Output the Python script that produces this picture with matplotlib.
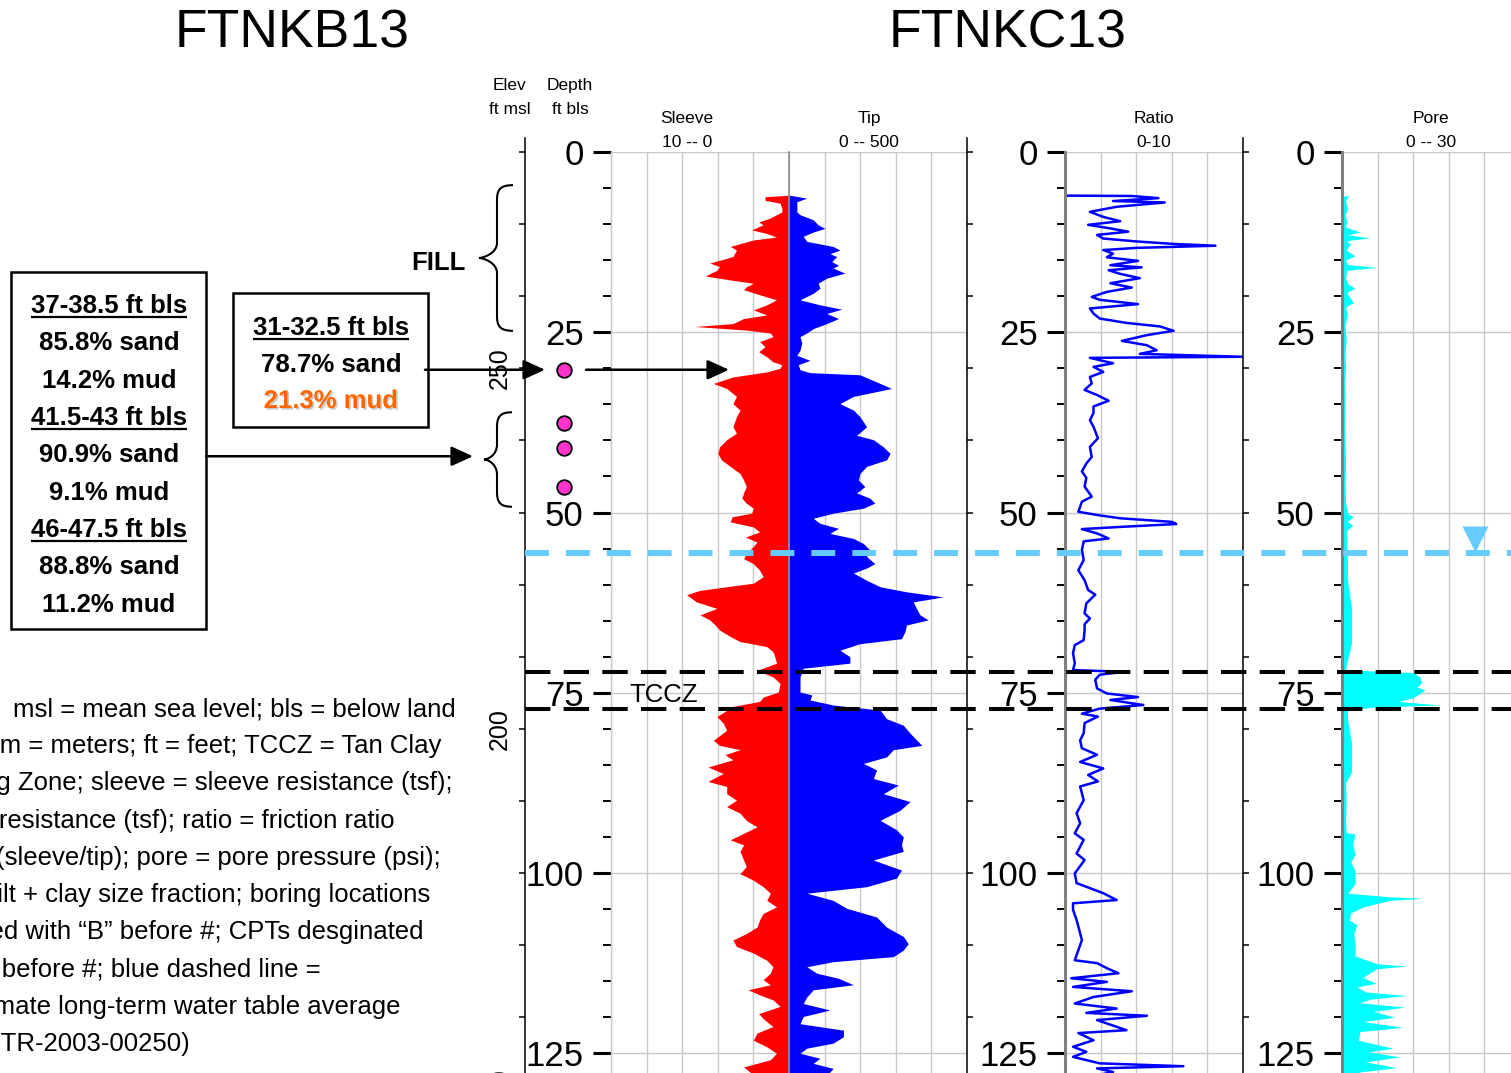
import matplotlib
matplotlib.use("Agg")
import matplotlib.pyplot as plt
from matplotlib.ticker import MultipleLocator
from matplotlib.patches import Rectangle, PathPatch
from matplotlib.path import Path
import matplotlib.transforms as mtransforms
import matplotlib.patheffects as pe

# ---------------------------------------------------------------- data
sleeve_depth = [6.0, 6.2, 6.7, 7.1, 7.8, 8.3, 8.7, 9.2, 9.7, 10.1, 10.8, 11.3, 11.8, 12.2, 13.1, 13.6,
                14.5, 15.4, 15.9, 16.4, 17.2, 17.8, 18.2, 18.7, 19.1, 20.1, 20.5, 21.2, 21.9, 22.6,
                23.1, 23.8, 24.2, 24.7, 25.1, 25.6, 26.3, 27.0, 27.7, 28.4, 29.1, 29.5, 30.0, 30.5,
                31.2, 32.1, 32.8, 33.9, 34.9, 35.8, 36.7, 38.1, 39.0, 39.9, 40.9, 41.8, 42.7, 43.6,
                44.6, 45.5, 46.4, 47.3, 48.0, 48.7, 49.4, 50.1, 50.6, 51.3, 52.0, 52.7, 53.4, 54.1,
                54.7, 55.7, 56.4, 57.1, 58.0, 58.9, 59.8, 60.8, 61.4, 62.4, 63.3, 64.2, 64.9, 65.6,
                66.3, 67.2, 67.9, 68.6, 69.3, 70.0, 70.9, 71.9, 72.8, 73.7, 74.9, 75.6, 76.2, 76.9,
                78.3, 79.2, 80.2, 81.6, 82.3, 82.9, 83.6, 84.3, 85.3, 86.2, 87.3, 88.0, 89.0, 89.9,
                90.8, 91.7, 92.7, 93.6, 94.5, 95.4, 96.1, 97.0, 98.2, 99.1, 100.1, 101.0, 101.9,
                102.8, 103.8, 104.7, 105.6, 106.5, 107.5, 108.4, 109.3, 110.2, 111.1, 112.1, 113.0,
                113.9, 114.8, 115.5, 116.2, 116.9, 117.6, 118.5, 119.5, 120.2, 121.3, 122.2, 123.2,
                124.1, 125.0, 125.9, 126.9, 127.6, 128.2]
sleeve_tsf = [0.0, 1.35, 1.35, 0.5, 0.4, 0.4, 0.7, 1.1, 1.7, 1.45, 2.1, 1.25, 0.7, 2.0, 3.3, 2.95,
              3.15, 4.45, 3.9, 4.05, 4.7, 3.15, 2.0, 2.4, 2.55, 1.25, 0.7, 1.25, 2.0, 1.25,
              2.55, 3.15, 5.3, 2.4, 1.05, 0.9, 1.65, 1.35, 1.7, 1.25, 0.9, 0.4, 0.5, 1.25,
              3.15, 4.25, 3.5, 2.95, 3.15, 2.75, 2.95, 3.15, 2.95, 3.5, 3.9, 4.0, 3.8, 3.3,
              2.75, 2.55, 2.4, 2.55, 2.65, 2.4, 2.0, 2.1, 3.2, 3.3, 2.0, 1.65, 2.45, 1.8,
              2.0, 2.4, 2.55, 2.0, 1.65, 1.45, 2.0, 5.0, 5.75, 5.2, 4.05, 5.0, 4.45, 4.15,
              3.9, 3.3, 2.75, 1.25, 0.9, 0.8, 0.7, 1.8, 0.9, 0.5, 0.6, 1.45, 1.65, 3.15,
              4.05, 3.7, 3.5, 4.25, 3.9, 2.75, 3.6, 3.15, 4.55, 3.7, 4.55, 3.5, 3.5, 2.95,
              3.5, 2.75, 2.4, 1.8, 2.55, 3.3, 2.55, 2.75, 2.55, 2.4, 2.75, 2.0, 1.45,
              1.05, 1.25, 0.7, 1.45, 1.65, 1.8, 2.4, 3.15, 2.95, 2.0, 1.25, 0.9,
              1.05, 1.45, 1.05, 2.3, 1.65, 0.9, 0.5, 1.7, 1.45, 0.9, 1.8, 2.0,
              1.25, 0.7, 1.05, 2.55, 2.2, 1.8]

tip_depth = [6.0, 6.4, 6.9, 7.6, 8.3, 8.7, 9.4, 10.1, 10.6, 11.1, 11.7, 12.4, 13.1, 13.6, 14.1, 14.5,
             15.2, 15.7, 16.1, 16.8, 17.5, 18.2, 18.9, 19.6, 20.5, 21.2, 21.8, 22.4, 23.1, 23.8,
             24.5, 25.1, 25.6, 26.5, 27.5, 28.2, 28.9, 29.5, 30.2, 30.6, 30.9, 32.1, 32.8, 33.9,
             34.9, 35.8, 36.7, 38.1, 39.3, 39.9, 40.9, 41.8, 42.7, 43.6, 44.6, 45.5, 46.4, 47.3,
             48.0, 48.7, 49.4, 50.1, 50.8, 51.5, 52.2, 52.9, 53.6, 54.3, 55.2, 56.1, 57.1, 57.7,
             58.4, 59.4, 60.3, 61.0, 61.7, 62.4, 63.3, 64.2, 64.9, 65.6, 66.5, 67.5, 68.2, 69.1,
             70.0, 70.9, 71.6, 72.8, 73.7, 74.9, 75.3, 76.0, 76.7, 77.4, 78.6, 79.5, 80.6, 82.3,
             82.9, 83.9, 84.8, 85.7, 86.9, 87.8, 89.0, 90.1, 91.3, 92.7, 94.0, 95.0, 96.1, 97.0,
             98.2, 99.6, 100.7, 101.9, 102.8, 103.8, 104.9, 106.1, 107.5, 108.8, 109.8, 110.7,
             111.6, 112.3, 113.0, 113.9, 114.6, 115.5, 116.2, 117.2, 118.1, 119.0, 119.9, 120.9,
             121.8, 122.7, 123.6, 124.3, 125.0, 125.7, 126.4, 127.1, 127.6, 128.2]
tip_tsf = [3, 50, 22, 22, 22, 31, 68, 82, 101, 68, 40, 50, 124, 143, 115, 134,
           120, 139, 124, 157, 106, 82, 87, 68, 31, 87, 148, 106, 139, 106,
           68, 50, 31, 36, 31, 22, 59, 26, 31, 59, 199, 256, 288, 181,
           143, 181, 199, 218, 190, 237, 265, 284, 274, 218, 199, 195, 213, 190,
           227, 241, 209, 124, 68, 87, 139, 115, 181, 209, 227, 218, 241, 218,
           181, 218, 256, 330, 433, 349, 358, 368, 391, 330, 326, 316, 199, 143,
           171, 171, 40, 31, 31, 31, 64, 59, 124, 256, 274, 321, 340, 373,
           293, 274, 209, 246, 237, 307, 265, 340, 312, 256, 302, 321, 316, 321,
           237, 316, 302, 218, 50, 124, 162, 246, 274, 321, 335, 321,
           293, 124, 50, 78, 139, 181, 68, 50, 40, 115, 40, 31,
           153, 153, 124, 50, 31, 87, 68, 124, 115, 100]

ratio_depth = [6.05, 6.1, 6.4, 6.8, 7.0, 7.6, 8.3, 9.0, 9.6, 10.1, 10.6, 11.05, 11.5, 12.0, 12.4,
               12.75, 13.0, 13.3, 13.6, 14.1, 14.6, 15.1, 15.7, 16.0, 16.4, 16.9, 17.5, 18.2, 18.8,
               19.4, 20.1, 20.5, 21.1, 21.7, 22.4, 23.1, 23.7, 24.2, 24.8, 25.4, 26.2, 26.8, 27.5,
               28.0, 28.4, 28.55, 29.3, 29.8, 30.5, 31.2, 32.1, 33.0, 33.7, 34.5, 35.3, 36.2, 37.2,
               38.1, 39.7, 40.9, 42.3, 43.2, 44.3, 45.2, 46.4, 47.8, 48.5, 49.9, 50.4, 50.8, 51.3,
               51.6, 52.0, 52.3, 52.9, 53.6, 54.0, 55.2, 56.6, 58.0, 59.4, 60.75, 61.4, 62.6, 64.0,
               64.7, 65.5, 66.3, 67.7, 68.4, 69.5, 70.9, 71.85, 72.1, 72.5, 73.2, 74.4, 75.1, 75.6,
               76.0, 76.7, 77.2, 77.9, 78.3, 79.2, 80.6, 81.6, 82.7, 83.6, 84.6, 85.5, 86.4, 87.3,
               88.0, 89.9, 91.7, 93.1, 94.5, 95.4, 97.3, 98.2, 100.05, 101.4, 102.8, 103.75, 104.2,
               105.1, 106.5, 109.3, 110.7, 112.1, 112.5, 113.2, 113.9, 114.6, 115.1, 115.8, 116.4,
               117.2, 118.1, 118.8, 119.4, 119.8, 120.4, 121.8, 122.2, 123.2, 124.1, 124.8, 125.5,
               126.4, 126.8, 127.1, 127.6, 128.2]
ratio_pct = [0.0, 3.75, 5.25, 2.7, 5.6, 2.9, 1.4, 2.15, 3.1, 1.3, 2.55, 3.55, 1.8, 2.15, 4.0,
             6.1, 8.45, 4.0, 2.15, 2.7, 2.35, 4.1, 2.55, 4.3, 2.45, 3.1, 4.2, 2.55, 3.75,
             2.35, 1.5, 1.95, 4.1, 1.4, 1.6, 1.95, 3.45, 5.35, 6.1, 4.6, 3.2, 4.6, 5.15,
             4.2, 10.0, 1.4, 2.7, 1.6, 2.15, 1.4, 1.5, 1.1, 1.8, 2.45, 1.6, 1.6, 1.4,
             1.6, 1.85, 1.4, 1.5, 1.2, 0.95, 1.2, 1.1, 1.5, 0.95, 0.75, 1.95, 3.1, 6.0,
             6.25, 3.1, 0.95, 1.8, 2.45, 1.05, 0.95, 1.05, 0.75, 1.1, 1.3, 1.7, 1.2, 1.1,
             1.4, 1.1, 1.1, 1.05, 0.55, 0.45, 0.55, 0.45, 3.3, 1.95, 1.7, 1.8, 2.35, 4.1,
             2.55, 4.4, 1.95, 0.95, 1.85, 1.1, 1.05, 0.85, 0.95, 1.8, 0.85, 2.15, 1.3, 1.85,
             0.85, 1.05, 0.65, 0.85, 0.55, 1.05, 0.65, 1.1, 0.55, 0.65, 2.15, 2.9, 0.45,
             0.45, 0.65, 0.95, 0.75, 0.55, 1.8, 2.35, 3.0, 0.35, 2.35, 0.45, 3.75,
             1.6, 0.55, 2.9, 1.2, 4.6, 1.8, 3.45, 0.75, 1.6, 0.45, 1.2, 0.45,
             1.95, 6.65, 1.8, 2.7, 1.5]

pore_depth = [6.1, 6.8, 7.9, 8.8, 9.5, 10.4, 11.1, 11.5, 11.9, 12.3, 12.8, 13.6, 14.4, 15.0, 15.6,
              16.0, 16.4, 17.5, 18.3, 18.9, 19.5, 20.9, 21.5, 22.5, 24.1, 26.0, 28.0, 30.0, 32.3,
              35.0, 38.0, 40.4, 43.0, 46.0, 48.6, 50.2, 50.6, 51.2, 51.8, 52.5, 54.5, 56.7, 59.0,
              61.0, 63.2, 65.5, 68.1, 69.5, 70.5, 71.8, 72.0, 72.2, 72.8, 73.6, 74.2, 74.6, 75.1,
              75.7, 76.2, 76.7, 77.0, 77.5, 79.0, 80.5, 81.9, 84.0, 86.0, 87.5, 90.0, 92.8, 94.4,
              94.6, 96.0, 97.4, 98.5, 99.7, 101.5, 102.8, 103.3, 103.5, 103.8, 104.7, 105.5, 106.5,
              107.2, 108.5, 110.0, 111.5, 112.6, 112.9, 113.3, 114.5, 115.3, 115.8, 116.5, 117.0,
              117.5, 118.0, 118.6, 119.2, 120.0, 120.6, 121.4, 122.0, 123.2, 124.3, 124.8, 125.5,
              126.2, 127.0, 127.6, 128.2]
pore_psi = [1.1, 0.6, 0.9, 0.5, 0.8, 0.6, 3.0, 1.0, 4.7, 0.8, 1.4, 0.7, 2.2, 0.6, 0.9,
            6.0, 0.8, 0.6, 1.0, 2.2, 0.8, 1.9, 0.6, 0.9, 0.5, 0.7, 0.5, 0.6, 0.4,
            0.5, 0.4, 0.5, 0.6, 0.5, 0.6, 1.0, 1.9, 0.9, 1.8, 0.8, 0.8, 0.9, 0.9,
            1.2, 1.6, 1.6, 1.6, 1.2, 0.9, 0.6, 6.0, 12.0, 13.1, 13.4, 12.6, 14.0, 13.1,
            12.0, 9.5, 16.5, 5.0, 0.9, 1.0, 1.3, 1.6, 1.6, 1.6, 0.6, 0.7, 0.6, 0.7,
            2.2, 1.8, 2.2, 1.5, 2.2, 2.2, 1.0, 8.0, 13.7, 8.1, 3.6, 1.5, 1.2,
            2.5, 2.0, 2.2, 2.2, 6.0, 10.9, 5.8, 3.5, 5.8, 2.5, 4.0, 10.9,
            4.8, 3.0, 10.6, 5.3, 8.9, 3.5, 10.3, 3.0, 2.8, 8.6, 4.5, 9.8,
            4.0, 9.2, 3.0, 2.0]

sample_dot_depth = [30.2, 37.6, 41.1, 46.5]
water_table_depth = 55.6
tccz_top_depth = 72.1
tccz_base_depth = 77.3
fill_brace_depth = (4.6, 24.8)
sample_brace_depth = (36.1, 49.2)
left_arrow_depth = 42.2
surface_elev_ft = 280

left_box_lines = [("37-38.5 ft bls", True), ("85.8% sand", False), ("14.2% mud", False),
                  ("41.5-43 ft bls", True), ("90.9% sand", False), ("9.1% mud", False),
                  ("46-47.5 ft bls", True), ("88.8% sand", False), ("11.2% mud", False)]
right_box_lines = [("31-32.5 ft bls", True, "black"), ("78.7% sand", False, "black"),
                   ("21.3% mud", False, "#ff6600")]

notes = [
    ("msl = mean sea level; bls = below land", "msl", 13),
    ("surface; m = meters; ft = feet; TCCZ = Tan Clay", "m = meters", 0),
    ("Confining Zone; sleeve = sleeve resistance (tsf);", "Zone", 18),
    ("tip = tip resistance (tsf); ratio = friction ratio", "esistance", 7),
    ("(sleeve/tip); pore = pore pressure (psi);", "sleeve/", 5),
    ("mud = silt + clay size fraction; boring locations", "lt +", 3),
    ("designated with \u201cB\u201d before #; CPTs desginated", "with", 25),
    ("with \u201cC\u201d before #; blue dashed line =", "before", 2),
    ("approximate long-term water table average", "long", 58),
    ("(WSRC-TR-2003-00250)", "TR-", 1),
]

# ---------------------------------------------------------------- layout
W, H, DPI = 1511, 1073, 100
TOP_PX = 152          # depth 0
PX_PER_FT = 7.21
DMAX = 130.0
BOT_PX = TOP_PX + DMAX * PX_PER_FT
HEAD_PX = 138         # top of the elevation rulers

SANS = ['Liberation Sans', 'DejaVu Sans']
plt.rcParams['font.family'] = SANS

GRID = '#c8c8c8'
LIGHT_BLUE = '#66ccff'

fig = plt.figure(figsize=(W / DPI, H / DPI), dpi=DPI)
fig.patch.set_facecolor('white')


def px_axes(x0, x1, y0=TOP_PX, y1=BOT_PX):
    return fig.add_axes([x0 / W, 1 - y1 / H, (x1 - x0) / W, (y1 - y0) / H])


def style_track(ax, xlim, xstep, labels, spine_color, spine_lw):
    ax.set_xlim(*xlim)
    ax.set_ylim(DMAX, 0)
    ax.xaxis.set_major_locator(MultipleLocator(xstep))
    ax.yaxis.set_major_locator(MultipleLocator(25))
    ax.yaxis.set_minor_locator(MultipleLocator(5))
    ax.grid(True, which='major', color=GRID, lw=1.0)
    ax.set_axisbelow(True)
    ax.tick_params(axis='x', which='both', length=0, labelbottom=False)
    for s in ('top', 'right', 'bottom'):
        ax.spines[s].set_visible(False)
    ax.spines['left'].set_color(spine_color)
    ax.spines['left'].set_linewidth(spine_lw)
    if labels:
        ax.tick_params(axis='y', which='major', direction='out', length=13.2, width=2.2,
                       pad=6.5, labelsize=25, colors='k')
        ax.tick_params(axis='y', which='minor', direction='out', length=6, width=1.4, colors='k')
    else:
        ax.tick_params(axis='y', which='both', length=0, labelleft=False)
    ax.patch.set_alpha(0)


# Sleeve (reversed scale) and tip share the first track
ax_s = px_axes(611, 789)
style_track(ax_s, (10, 0), 2, True, GRID, 1.0)
ax_s.fill_betweenx(sleeve_depth, 0, sleeve_tsf, color='#ff0000', lw=0)

ax_t = px_axes(789, 967)
style_track(ax_t, (0, 500), 100, False, '#8c8c8c', 1.2)
ax_t.fill_betweenx(tip_depth, 0, tip_tsf, color='#0000ff', lw=0)

ax_r = px_axes(1065, 1243)
style_track(ax_r, (0, 10), 2, True, '#808080', 2.2)
ax_r.plot(ratio_pct, ratio_depth, color='#0000ff', lw=1.8)

ax_p = px_axes(1342, 1520)
style_track(ax_p, (0, 30), 6, True, '#808080', 2.2)
ax_p.fill_betweenx(pore_depth, 0, pore_psi, color='#00ffff', lw=0)


# Elevation rulers
def elev_ruler(x, side, labels):
    if side == 'left':
        ax = px_axes(x, x + 1, HEAD_PX, BOT_PX)
    else:
        ax = px_axes(x - 1, x, HEAD_PX, BOT_PX)
    ax.set_ylim(surface_elev_ft - DMAX, surface_elev_ft + (TOP_PX - HEAD_PX) / PX_PER_FT)
    ax.set_xlim(0, 1)
    for s in ax.spines:
        ax.spines[s].set_visible(s == side)
    ax.spines[side].set_linewidth(1.1)
    ax.yaxis.set_ticks_position(side)
    ax.yaxis.set_major_locator(MultipleLocator(50))
    ax.yaxis.set_minor_locator(MultipleLocator(10))
    ax.tick_params(axis='y', which='both', direction='out', length=4.3, width=1.1,
                   colors='k', labelsize=18, pad=5)
    ax.tick_params(axis='x', length=0, labelbottom=False)
    if labels:
        for lbl in ax.get_yticklabels():
            lbl.set_rotation(90)
            lbl.set_va('center')
    else:
        ax.tick_params(axis='y', labelleft=False, labelright=False)
    ax.patch.set_visible(False)
    ax.set_zorder(5)
    return ax


ax_e = elev_ruler(525, 'left', True)
elev_ruler(967, 'right', False)
elev_ruler(1243, 'right', False)

# Overlay in pixel coordinates for annotations
ov = fig.add_axes([0, 0, 1, 1])
ov.set_xlim(0, W)
ov.set_ylim(H, 0)
ov.axis('off')
ov.set_zorder(10)
depth_tr = mtransforms.blended_transform_factory(ov.transData, ax_s.transData)

# water table and TCCZ horizons
ov.plot([525, W + 20], [water_table_depth] * 2, transform=depth_tr, color=LIGHT_BLUE,
        lw=4.3, dashes=(4.0, 2.85), solid_capstyle='butt', clip_on=False)
for d in (tccz_top_depth, tccz_base_depth):
    ov.plot([525, W + 20], [d, d], transform=depth_tr, color='black', lw=2.9,
            dashes=(6.3, 3.3), clip_on=False)
tri_tr = mtransforms.offset_copy(ax_p.transData, fig=fig, x=0, y=14, units='dots')
ax_p.plot([22.4], [water_table_depth], marker='v', ms=19, color=LIGHT_BLUE, mec='none',
          transform=tri_tr, clip_on=False, zorder=6)

# boring sample dots
ov.plot([564] * len(sample_dot_depth), sample_dot_depth, transform=depth_tr, ls='none',
        marker='o', ms=10.5, mfc='#ff33cc', mec='black', mew=1.3, zorder=12)


# braces
def brace(top, bot, x_end, x_spine, x_tip):
    h = 15 / PX_PER_FT
    mid = (top + bot) / 2
    verts = [(x_end, top), (x_spine + 3, top), (x_spine, top + h * 0.3), (x_spine, top + h),
             (x_spine, mid - h),
             (x_spine, mid - h * 0.3), (x_tip + 4, mid), (x_tip, mid),
             (x_tip + 4, mid), (x_spine, mid + h * 0.3), (x_spine, mid + h),
             (x_spine, bot - h),
             (x_spine, bot - h * 0.3), (x_spine + 3, bot), (x_end, bot)]
    codes = [Path.MOVETO, Path.CURVE4, Path.CURVE4, Path.CURVE4, Path.LINETO,
             Path.CURVE4, Path.CURVE4, Path.CURVE4, Path.CURVE4, Path.CURVE4, Path.CURVE4,
             Path.LINETO, Path.CURVE4, Path.CURVE4, Path.CURVE4]
    ov.add_patch(PathPatch(Path(verts, codes), transform=depth_tr, fill=False,
                           lw=1.5, ec='black', clip_on=False))


brace(*fill_brace_depth, 513, 497, 479)
brace(*sample_brace_depth, 512, 497, 484)

# titles and headers
ov.text(292, 47, 'FTNKB13', ha='center', va='baseline', fontsize=38.5)
ov.text(1008, 47, 'FTNKC13', ha='center', va='baseline', fontsize=38.5)
hdr = dict(ha='center', va='baseline', fontsize=12.5)
ov.text(510, 90, 'Elev', **hdr)
ov.text(510, 114, 'ft msl', **hdr)
ov.text(570, 90, 'Depth', **hdr)
ov.text(570, 114, 'ft bls', **hdr)
for xc, name, rng in ((687, 'Sleeve', '10 -- 0'), (869, 'Tip', '0 -- 500'),
                      (1154, 'Ratio', '0-10'), (1431, 'Pore', '0 -- 30')):
    ov.text(xc, 123, name, **hdr)
    ov.text(xc, 147, rng, **hdr)

ov.text(466, 270, 'FILL', ha='right', va='baseline', fontsize=18.5, fontweight='bold')
ov.text(629, 702, 'TCCZ', ha='left', va='baseline', fontsize=18.5)

renderer = fig.canvas.get_renderer()
inv = ov.transData.inverted()


def underlined(x, y, s, **kw):
    t = ov.text(x, y, s, ha='center', va='baseline', **kw)
    bb = t.get_window_extent(renderer=renderer)
    x0 = inv.transform((bb.x0, bb.y0))[0]
    x1 = inv.transform((bb.x1, bb.y0))[0]
    ov.plot([x0, x1], [y + 4, y + 4], color='black', lw=1.6, solid_capstyle='butt')


box_font = dict(fontsize=18.5, fontweight='bold')

ov.add_patch(Rectangle((11, 272), 195, 357, fill=False, lw=1.8, ec='black'))
for i, (s, ul) in enumerate(left_box_lines):
    y = 312.7 + 37.4 * i
    if ul:
        underlined(109, y, s, **box_font)
    else:
        ov.text(109, y, s, ha='center', va='baseline', **box_font)

ov.add_patch(Rectangle((233, 293), 195, 134, fill=False, lw=1.8, ec='black'))
for i, (s, ul, col) in enumerate(right_box_lines):
    y = 335 + 36.5 * i
    if ul:
        underlined(331, y, s, color=col, **box_font)
    elif col != 'black':
        ov.text(331, y, s, ha='center', va='baseline', color=col,
                path_effects=[pe.withSimplePatchShadow(offset=(1.2, -1.2),
                                                       shadow_rgbFace='#999999', alpha=0.5)],
                **box_font)
    else:
        ov.text(331, y, s, ha='center', va='baseline', color=col, **box_font)

# arrows from the sample boxes
arrow = dict(arrowstyle='-|>,head_length=0.55,head_width=0.25', mutation_scale=24,
             color='black', lw=1.8, shrinkA=0, shrinkB=0)
d0 = sample_dot_depth[0]
ov.annotate('', xy=(545, d0), xycoords=depth_tr, xytext=(425, d0), textcoords=depth_tr,
            arrowprops=arrow)
ov.annotate('', xy=(729, d0), xycoords=depth_tr, xytext=(586, d0), textcoords=depth_tr,
            arrowprops=arrow)
ov.annotate('', xy=(473, left_arrow_depth), xycoords=depth_tr, xytext=(206, left_arrow_depth),
            textcoords=depth_tr, arrowprops=arrow)

# notes; each line is positioned so that its anchor word starts at the given x
note_font = dict(fontsize=18.5)


def width_px(s):
    t = ov.text(0, 0, s + '|', **note_font)
    w1 = t.get_window_extent(renderer=renderer).width
    t.remove()
    t = ov.text(0, 0, '|', **note_font)
    w2 = t.get_window_extent(renderer=renderer).width
    t.remove()
    return w1 - w2


for i, (line, anchor, ax_px) in enumerate(notes):
    prefix = line[:line.index(anchor)]
    x = ax_px - (width_px(prefix) if prefix else 0)
    ov.text(x, 716 + 37.2 * i, line, ha='left', va='baseline', clip_on=False, **note_font)

fig.savefig('out.png', dpi=DPI, facecolor='white')
